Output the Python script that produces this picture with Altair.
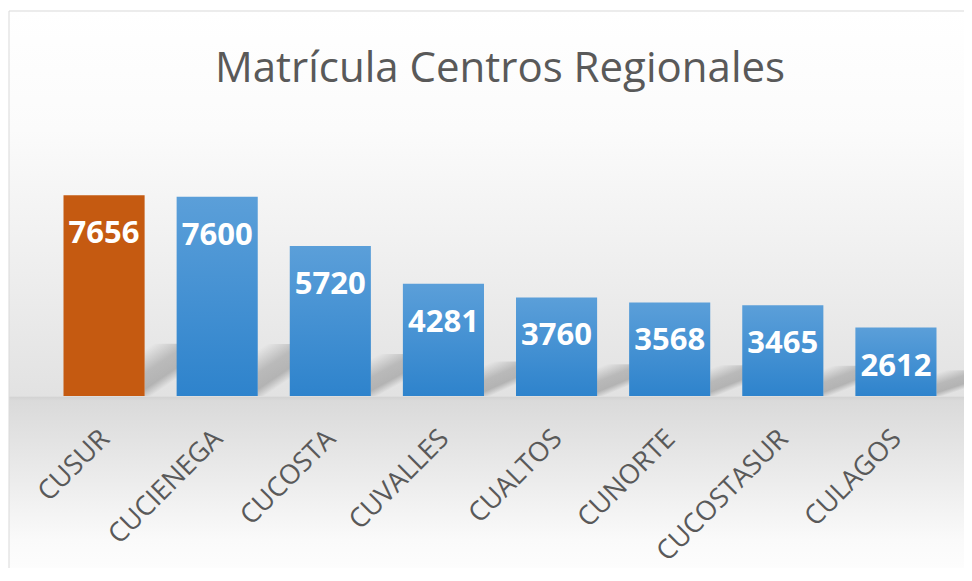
import altair as alt
import pandas as pd

centros = ["CUSUR", "CUCIENEGA", "CUCOSTA", "CUVALLES", "CUALTOS", "CUNORTE", "CUCOSTASUR", "CULAGOS"]
matricula = [7656, 7600, 5720, 4281, 3760, 3568, 3465, 2612]
destacado = "CUSUR"

df = pd.DataFrame({"centro": centros, "matricula": matricula})

W, H = 905, 236

x_enc = alt.X(
    "centro:N",
    sort=None,
    scale=alt.Scale(paddingInner=0.283, paddingOuter=0.1415),
    axis=alt.Axis(
        title=None, domain=False, ticks=False, grid=False, zindex=2,
        labelAngle=-45, labelFont="Open Sans", labelFontSize=27,
        labelColor="#595959", labelPadding=29, labelOffset=-8,
    ),
)
y_scale = alt.Scale(domain=[0, 9000], nice=False, zero=True)
y_enc = alt.Y("matricula:Q", scale=y_scale, axis=None)

bg_gradient = alt.LinearGradient(
    gradient="linear", x1=0, y1=0, x2=0, y2=1,
    stops=[
        alt.GradientStop(offset=0.0, color="#ffffff"),
        alt.GradientStop(offset=0.205, color="#fbfbfb"),
        alt.GradientStop(offset=0.412, color="#f0f0f0"),
        alt.GradientStop(offset=0.664, color="#e2e2e2"),
        alt.GradientStop(offset=0.666, color="#d3d3d3"),
        alt.GradientStop(offset=0.672, color="#dadada"),
        alt.GradientStop(offset=0.809, color="#ececec"),
        alt.GradientStop(offset=0.912, color="#fafafa"),
        alt.GradientStop(offset=1.0, color="#ffffff"),
    ],
)

frame = alt.Chart(alt.Data(values=[{"k": 1}])).mark_rect(
    fill=bg_gradient, stroke="#d9d9d9", strokeWidth=1
).encode(
    x=alt.value(-38.5), x2=alt.value(935), y=alt.value(-149), y2=alt.value(431)
)

shadow_gradient = alt.LinearGradient(
    gradient="linear", x1=0.7, y1=1, x2=0.27, y2=0,
    stops=[
        alt.GradientStop(offset=0.0, color="rgba(0,0,0,0)"),
        alt.GradientStop(offset=0.18, color="rgba(0,0,0,0)"),
        alt.GradientStop(offset=0.36, color="rgba(0,0,0,0.21)"),
        alt.GradientStop(offset=0.62, color="rgba(0,0,0,0.19)"),
        alt.GradientStop(offset=1.0, color="rgba(0,0,0,0)"),
    ],
)

base = alt.Chart(df)

shadows = base.transform_calculate(sombra="datum.matricula * 0.2 + 460").mark_bar(
    fill=shadow_gradient, size=33, xOffset=57
).encode(x=x_enc, y=alt.Y("sombra:Q", scale=y_scale, axis=None))

blue_gradient = alt.LinearGradient(
    gradient="linear", x1=0, y1=0, x2=0, y2=1,
    stops=[
        alt.GradientStop(offset=0.0, color="#5b9fd9"),
        alt.GradientStop(offset=1.0, color="#2e83cc"),
    ],
)

bars_blue = base.transform_filter(alt.datum.centro != destacado).mark_bar(
    fill=blue_gradient
).encode(x=x_enc, y=y_enc)

bar_orange = base.transform_filter(alt.datum.centro == destacado).mark_bar(
    fill="#c55a11"
).encode(x=x_enc, y=y_enc)

labels = base.mark_text(
    font="Open Sans", fontWeight="bold", fontSize=31, color="white",
    baseline="middle", align="center", dy=39
).encode(x=x_enc, y=y_enc, text=alt.Text("matricula:Q", format="d"))

chart = alt.layer(frame, shadows, bars_blue, bar_orange, labels).properties(
    width=W, height=H,
    title=alt.TitleParams(
        "Matrícula Centros Regionales", font="Open Sans", fontSize=42,
        fontWeight="normal", color="#595959", anchor="middle",
        baseline="alphabetic", offset=-113,
    ),
    autosize=alt.AutoSizeParams(type="none"),
    padding={"left": 39.5, "top": 152, "right": 11.5, "bottom": 172},
    background="white",
).configure_view(stroke=None)

chart.save("out.html", embed_options={"renderer": "svg", "actions": False})
